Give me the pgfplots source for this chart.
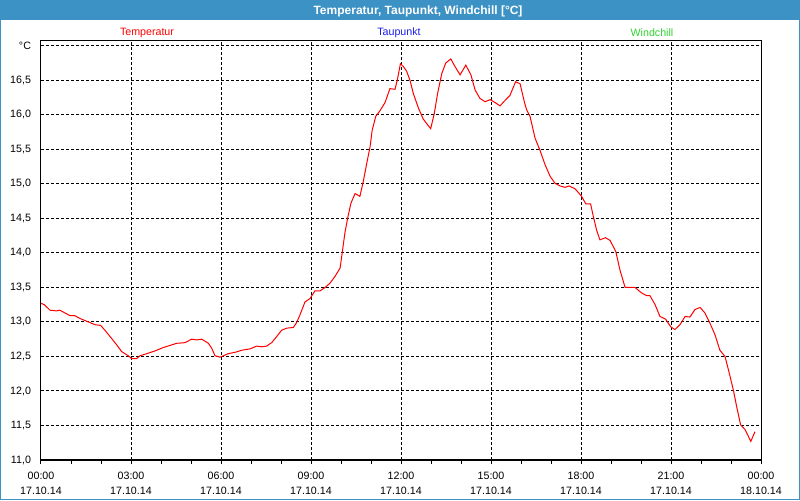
\documentclass[border=0pt]{standalone}
\usepackage{fontspec}
\setmainfont{Liberation Sans}
\usepackage{pgfplots}
\pgfplotsset{compat=1.18}
\definecolor{barblue}{RGB}{60,145,197}
\definecolor{tempred}{RGB}{255,0,0}
\definecolor{taublue}{RGB}{30,30,230}
\definecolor{windgreen}{RGB}{50,210,50}

\begin{document}
\begin{tikzpicture}
% 1 px = 0.75 pt, picture 800 x 500 px
\useasboundingbox (0,0) rectangle (600pt,375pt);
\fill[white] (0,0) rectangle (600pt,375pt);
\fill[barblue] (0,360pt) rectangle (600pt,375pt);
\draw[barblue, line width=0.75pt] (0.375pt,0.375pt) rectangle (599.625pt,374.625pt);
\node[text=white, font=\bfseries\fontsize{9}{11}\selectfont] at (313.5pt,366.75pt) {Temperatur, Taupunkt, Windchill [°C]};
\node[text=tempred, font=\fontsize{8}{10}\selectfont] at (110.25pt,350.25pt) {Temperatur};
\node[text=taublue, font=\fontsize{8}{10}\selectfont] at (299.25pt,350.25pt) {Taupunkt};
\node[text=windgreen, font=\fontsize{8}{10}\selectfont] at (489pt,350.25pt) {Windchill};

\begin{axis}[
    at={(30.75pt,30pt)}, anchor=south west,
    scale only axis, width=540pt, height=314.25pt,
    xmin=0, xmax=24, ymin=11, ymax=17.07,
    xtick={0,3,...,24}, minor x tick num=2,
    xticklabels={{00:00\\17.10.14},{03:00\\17.10.14},{06:00\\17.10.14},{09:00\\17.10.14},{12:00\\17.10.14},{15:00\\17.10.14},{18:00\\17.10.14},{21:00\\17.10.14},{00:00\\18.10.14}},
    xticklabel style={align=center, font=\fontsize{8}{11.5}\selectfont, yshift=-2.25pt},
    ytick={11,11.5,...,17},
    yticklabels={{11,0},{11,5},{12,0},{12,5},{13,0},{13,5},{14,0},{14,5},{15,0},{15,5},{16,0},{16,5},°C},
    yticklabel style={font=\fontsize{8}{10}\selectfont, xshift=-1pt},
    grid=major,
    grid style={black, line width=0.75pt, dash pattern=on 2.25pt off 1.5pt},
    xtick pos=bottom, ytick pos=left, tick align=outside,
    major tick length=3pt, minor tick length=3pt,
    tick style={black, line width=0.75pt},
    ytick style={draw=none},
    axis line style={black, line width=0.75pt},
]
\addplot[tempred, line width=0.75pt, sharp plot] coordinates {
(0,13.27) (0.11,13.25) (0.3,13.17) (0.52,13.16) (0.63,13.17) (0.8,13.13)
(0.97,13.09) (1.13,13.09) (1.3,13.05) (1.58,13.00) (1.8,12.96) (1.99,12.95)
(2.13,12.88) (2.3,12.79) (2.52,12.67) (2.69,12.57) (2.91,12.51) (3.02,12.47)
(3.19,12.47) (3.3,12.51) (3.52,12.54) (3.8,12.58) (4.08,12.63) (4.3,12.66)
(4.52,12.69) (4.8,12.70) (5.02,12.75) (5.19,12.74) (5.36,12.75) (5.58,12.69)
(5.69,12.62) (5.8,12.51) (5.97,12.49) (6.24,12.54) (6.47,12.56) (6.69,12.59)
(6.97,12.61) (7.19,12.65) (7.36,12.64) (7.52,12.65) (7.69,12.70) (7.86,12.79)
(8.02,12.88) (8.19,12.91) (8.41,12.92) (8.52,12.99) (8.63,13.10) (8.8,13.29)
(8.97,13.34) (9.13,13.45) (9.3,13.45) (9.47,13.50) (9.63,13.56) (9.8,13.66)
(9.97,13.78) (10.04,14.00) (10.13,14.29) (10.22,14.50) (10.33,14.72) (10.47,14.86)
(10.63,14.82) (10.74,15.03) (10.86,15.30) (10.97,15.54) (11.04,15.78) (11.16,15.98)
(11.3,16.06) (11.47,16.18) (11.63,16.38) (11.8,16.37) (11.88,16.51) (11.98,16.74)
(12.08,16.70) (12.19,16.63) (12.3,16.50) (12.41,16.31) (12.58,16.10) (12.74,15.94)
(12.88,15.86) (12.99,15.80) (13.11,16.02) (13.22,16.31) (13.36,16.60) (13.49,16.75)
(13.66,16.81) (13.8,16.70) (13.97,16.58) (14.16,16.72) (14.33,16.58) (14.47,16.36)
(14.63,16.24) (14.8,16.19) (14.97,16.22) (15.13,16.18) (15.3,16.13) (15.47,16.21)
(15.63,16.28) (15.82,16.48) (15.97,16.45) (16.11,16.19) (16.19,16.07) (16.3,15.98)
(16.47,15.66) (16.63,15.49) (16.8,15.28) (16.97,15.11) (17.13,15.01) (17.3,14.97)
(17.47,14.95) (17.6,14.97) (17.8,14.93) (17.94,14.86) (18.02,14.82) (18.16,14.71)
(18.32,14.71) (18.41,14.53) (18.52,14.33) (18.63,14.19) (18.82,14.22) (18.97,14.18)
(19.16,14.02) (19.3,13.75) (19.47,13.50) (19.8,13.50) (20.02,13.42) (20.19,13.38)
(20.3,13.38) (20.47,13.25) (20.63,13.08) (20.82,13.04) (20.99,12.93) (21.13,12.89)
(21.3,12.96) (21.47,13.08) (21.63,13.07) (21.8,13.18) (21.97,13.21) (22.13,13.13)
(22.3,12.98) (22.47,12.81) (22.63,12.59) (22.8,12.50) (22.93,12.28) (23.08,12.01)
(23.19,11.77) (23.32,11.51) (23.47,11.44) (23.66,11.27) (23.8,11.41)
};
\end{axis}
\end{tikzpicture}
\end{document}
